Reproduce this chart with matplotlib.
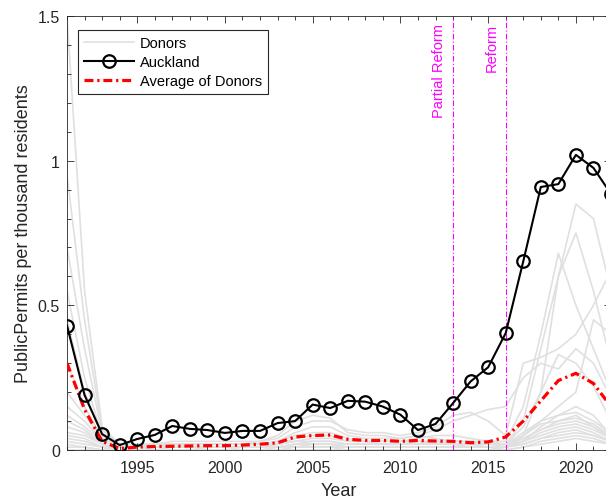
import numpy as np
import matplotlib
matplotlib.use("Agg")
import matplotlib.pyplot as plt
from matplotlib.ticker import MultipleLocator

plt.rcParams['font.family'] = ['Liberation Sans', 'DejaVu Sans']

years = list(range(1991, 2023))

auckland = [0.43, 0.19, 0.055, 0.017, 0.038, 0.052, 0.083, 0.073, 0.069, 0.059,
            0.066, 0.066, 0.093, 0.10, 0.157, 0.145, 0.17, 0.167, 0.15, 0.122,
            0.069, 0.09, 0.162, 0.237, 0.286, 0.404, 0.652, 0.909, 0.919, 1.02,
            0.975, 0.885]

avg_donors = [0.30, 0.14, 0.03, 0.005, 0.01, 0.012, 0.013, 0.014, 0.015, 0.015,
              0.017, 0.02, 0.025, 0.045, 0.05, 0.052, 0.037, 0.033, 0.033, 0.03,
              0.033, 0.031, 0.03, 0.025, 0.028, 0.045, 0.10, 0.17, 0.24, 0.265,
              0.23, 0.15]

# donor units (grey lines)
d1 = [1.50, 0.55, 0.08, 0.02, 0.01, 0.01, 0.02, 0.02, 0.02, 0.02, 0.02, 0.02, 0.03, 0.05, 0.06, 0.06,
      0.04, 0.03, 0.03, 0.03, 0.03, 0.02, 0.02, 0.02, 0.02, 0.02, 0.10, 0.35, 0.60, 0.85, 0.80, 0.55]
d2 = [0.95, 0.45, 0.07, 0.02, 0.02, 0.02, 0.03, 0.03, 0.03, 0.03, 0.03, 0.03, 0.05, 0.10, 0.12, 0.11,
      0.06, 0.05, 0.05, 0.04, 0.05, 0.04, 0.03, 0.03, 0.03, 0.03, 0.15, 0.40, 0.68, 0.50, 0.35, 0.20]
d3 = [0.70, 0.35, 0.06, 0.01, 0.01, 0.01, 0.01, 0.02, 0.02, 0.02, 0.02, 0.02, 0.02, 0.04, 0.05, 0.05,
      0.03, 0.03, 0.03, 0.03, 0.04, 0.05, 0.05, 0.04, 0.03, 0.02, 0.05, 0.20, 0.60, 0.75, 0.55, 0.30]
d4 = [0.55, 0.25, 0.05, 0.02, 0.02, 0.02, 0.02, 0.02, 0.02, 0.02, 0.02, 0.03, 0.04, 0.08, 0.10, 0.10,
      0.07, 0.06, 0.06, 0.05, 0.06, 0.08, 0.12, 0.13, 0.10, 0.05, 0.30, 0.32, 0.35, 0.40, 0.50, 0.62]
d5 = [0.45, 0.20, 0.05, 0.01, 0.01, 0.02, 0.02, 0.02, 0.02, 0.02, 0.02, 0.02, 0.03, 0.06, 0.08, 0.08,
      0.05, 0.04, 0.04, 0.04, 0.05, 0.07, 0.10, 0.12, 0.14, 0.15, 0.25, 0.30, 0.28, 0.35, 0.30, 0.18]
d6 = [0.30, 0.15, 0.04, 0.01, 0.01, 0.01, 0.01, 0.01, 0.01, 0.01, 0.01, 0.01, 0.02, 0.03, 0.04, 0.04,
      0.03, 0.03, 0.02, 0.02, 0.02, 0.03, 0.03, 0.03, 0.02, 0.02, 0.08, 0.20, 0.33, 0.30, 0.22, 0.10]
d7 = [0.20, 0.12, 0.04, 0.01, 0.01, 0.01, 0.01, 0.01, 0.01, 0.01, 0.01, 0.01, 0.02, 0.03, 0.03, 0.03,
      0.02, 0.02, 0.02, 0.02, 0.02, 0.02, 0.02, 0.02, 0.01, 0.01, 0.05, 0.10, 0.15, 0.20, 0.45, 0.40]
d8 = [0.15, 0.10, 0.03, 0.01, 0.01, 0.01, 0.01, 0.01, 0.01, 0.01, 0.01, 0.01, 0.01, 0.02, 0.02, 0.02,
      0.02, 0.02, 0.02, 0.02, 0.02, 0.02, 0.02, 0.01, 0.01, 0.01, 0.03, 0.08, 0.12, 0.15, 0.12, 0.05]
d9 = [0.12, 0.08, 0.03, 0.01, 0.01, 0.01, 0.01, 0.01, 0.01, 0.01, 0.01, 0.01, 0.01, 0.02, 0.03, 0.03,
      0.02, 0.02, 0.02, 0.02, 0.03, 0.03, 0.02, 0.02, 0.02, 0.02, 0.04, 0.07, 0.10, 0.12, 0.08, 0.04]
d10 = [0.10, 0.07, 0.02, 0.00, 0.00, 0.01, 0.01, 0.01, 0.01, 0.01, 0.01, 0.01, 0.01, 0.02, 0.02, 0.02,
       0.01, 0.01, 0.01, 0.01, 0.01, 0.01, 0.01, 0.01, 0.01, 0.02, 0.06, 0.10, 0.12, 0.13, 0.10, 0.06]
d11 = [0.08, 0.06, 0.02, 0.00, 0.00, 0.00, 0.01, 0.01, 0.01, 0.01, 0.01, 0.01, 0.01, 0.01, 0.02, 0.02,
       0.01, 0.01, 0.01, 0.01, 0.01, 0.01, 0.01, 0.01, 0.01, 0.01, 0.05, 0.09, 0.10, 0.11, 0.09, 0.05]
d12 = [0.06, 0.05, 0.02, 0.00, 0.00, 0.00, 0.00, 0.00, 0.01, 0.01, 0.01, 0.01, 0.01, 0.01, 0.01, 0.01,
       0.01, 0.01, 0.01, 0.01, 0.01, 0.01, 0.01, 0.01, 0.01, 0.01, 0.04, 0.07, 0.09, 0.10, 0.08, 0.05]
d13 = [0.05, 0.04, 0.01, 0.00, 0.00, 0.00, 0.00, 0.00, 0.00, 0.00, 0.01, 0.01, 0.01, 0.01, 0.01, 0.01,
       0.01, 0.01, 0.01, 0.01, 0.01, 0.01, 0.01, 0.01, 0.01, 0.01, 0.03, 0.06, 0.08, 0.09, 0.07, 0.04]
d14 = [0.04, 0.03, 0.01, 0.00, 0.00, 0.00, 0.00, 0.00, 0.00, 0.00, 0.00, 0.00, 0.01, 0.01, 0.01, 0.01,
       0.01, 0.01, 0.01, 0.01, 0.01, 0.01, 0.01, 0.01, 0.01, 0.01, 0.03, 0.05, 0.07, 0.08, 0.06, 0.03]
d15 = [0.03, 0.02, 0.01, 0.00, 0.00, 0.00, 0.00, 0.00, 0.00, 0.00, 0.00, 0.00, 0.00, 0.01, 0.01, 0.01,
       0.00, 0.00, 0.00, 0.00, 0.00, 0.00, 0.00, 0.00, 0.00, 0.01, 0.02, 0.04, 0.06, 0.07, 0.05, 0.03]
d16 = [0.02, 0.01, 0.00, 0.00, 0.00, 0.00, 0.00, 0.00, 0.00, 0.00, 0.00, 0.00, 0.00, 0.00, 0.00, 0.00,
       0.00, 0.00, 0.00, 0.00, 0.00, 0.00, 0.00, 0.00, 0.00, 0.01, 0.02, 0.04, 0.05, 0.06, 0.05, 0.03]
d17 = [0.01, 0.01, 0.00, 0.00, 0.00, 0.00, 0.00, 0.00, 0.00, 0.00, 0.00, 0.00, 0.00, 0.00, 0.00, 0.00,
       0.00, 0.00, 0.00, 0.00, 0.00, 0.00, 0.00, 0.00, 0.00, 0.00, 0.01, 0.03, 0.04, 0.05, 0.04, 0.02]
d18 = [0.00, 0.00, 0.00, 0.00, 0.00, 0.00, 0.00, 0.00, 0.00, 0.00, 0.00, 0.00, 0.00, 0.00, 0.00, 0.00,
       0.00, 0.00, 0.00, 0.00, 0.00, 0.00, 0.00, 0.00, 0.00, 0.00, 0.01, 0.02, 0.03, 0.04, 0.03, 0.02]
donors = [d1, d2, d3, d4, d5, d6, d7, d8, d9, d10, d11, d12, d13, d14, d15, d16, d17, d18]

reform_years = [2013, 2016]
reform_labels = ['Partial Reform', 'Reform']

xticks = [1995, 2000, 2005, 2010, 2015, 2020]
yticks = [0, 0.5, 1, 1.5]
ytick_labels = ['0', '0.5', '1', '1.5']

axcol = '#262626'
fig = plt.figure(figsize=(6.06, 5.02), dpi=100)
ax = fig.add_axes([67/606, 51/502, 544/606, 434/502])

for i, d in enumerate(donors):
    ax.plot(years, d, color='#e0e0e0', lw=1.2, zorder=1,
            label='Donors' if i == 0 else None)

for yr, lab in zip(reform_years, reform_labels):
    ax.axvline(yr, color='magenta', lw=0.8, zorder=2, dashes=(5, 2, 1, 2))
    ax.text(yr - 0.78, 1.475, lab, rotation=90, ha='center', va='top',
            color='magenta', fontsize=10.5)

ax.plot(years, auckland, color='black', lw=1.5, marker='o', ms=9,
        mfc='none', mew=1.6, zorder=4, label='Auckland')
ax.plot(years, avg_donors, color='red', lw=2.3, zorder=3,
        dashes=(2.8, 1.2, 0.7, 1.2), label='Average of Donors')

# keep legend order Donors, Auckland, Average
h, l = ax.get_legend_handles_labels()
leg = ax.legend(h, l, loc='upper left', bbox_to_anchor=(0.021, 0.968),
                fontsize=10.5, handlelength=3.4, labelspacing=0.35,
                borderaxespad=0, fancybox=False, framealpha=1,
                edgecolor=axcol, handletextpad=0.4, borderpad=0.4)
leg.get_frame().set_linewidth(0.8)

ax.set_xlim(1991, 2022)
ax.set_ylim(0, 1.5)
ax.set_xticks(xticks)
ax.set_yticks(yticks)
ax.set_yticklabels(ytick_labels)
ax.xaxis.set_minor_locator(MultipleLocator(1))
ax.yaxis.set_minor_locator(MultipleLocator(0.1))
ax.tick_params(which='both', direction='in', top=True, right=True,
               colors=axcol, labelsize=11.5, width=0.6)
ax.tick_params(which='major', length=5)
ax.tick_params(which='minor', length=3)
ax.tick_params(axis='x', which='major', pad=7.5)
ax.tick_params(axis='y', which='major', pad=5)
for s in ax.spines.values():
    s.set_color(axcol)
    s.set_linewidth(0.6)

ax.set_xlabel('Year', fontsize=13, color=axcol, labelpad=5)
ax.set_ylabel('PublicPermits per thousand residents', fontsize=13, color=axcol)

fig.savefig('out.png', dpi=100)
